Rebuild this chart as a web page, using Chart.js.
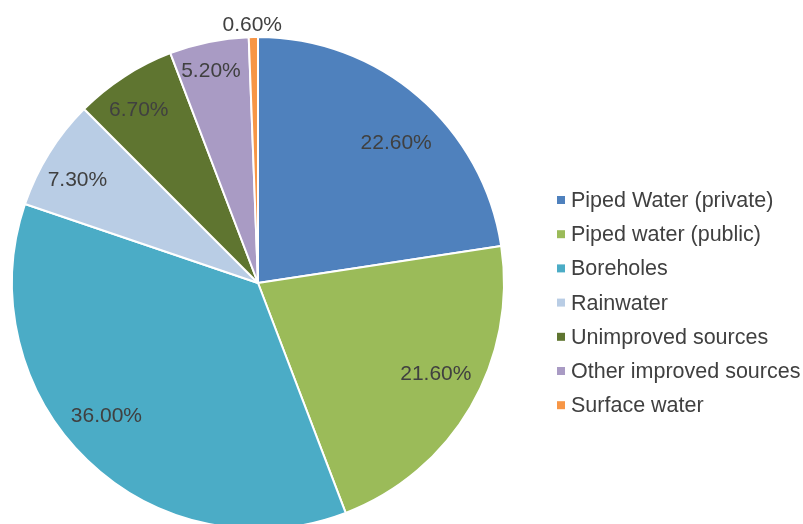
<!DOCTYPE html>
<html>
<head>
<meta charset="utf-8">
<script src="https://cdn.jsdelivr.net/npm/chart.js@4/dist/chart.umd.min.js"></script>
<style>
  html, body { margin: 0; padding: 0; background: #fff; overflow: hidden; }
  #wrap { position: relative; width: 803px; height: 570px; }
</style>
</head>
<body>
<div id="wrap"><canvas id="chart" width="803" height="570"></canvas></div>
<script>
const sources = ["Piped Water (private)", "Piped water (public)", "Boreholes", "Rainwater", "Unimproved sources", "Other improved sources", "Surface water"];
const shares = [22.6, 21.6, 36.0, 7.3, 6.7, 5.2, 0.6];
const sliceColors = ["#4F81BD", "#9BBB59", "#4BACC6", "#B9CDE5", "#5F7530", "#A99BC4", "#F79646"];

// where each percent label sits (Excel "best fit" look): fraction of radius, and a small turn off the bisector in degrees
const labelRadius = [0.80, 0.813, 0.82, 0.844, 0.855, 0.882, 1.05];
const labelTurn = [3.9, -3.0, 4.8, -2.3, -1.6, -1.0, -0.2];
const textColor = "#404040";
const fontFamily = "'Liberation Sans', Arial, sans-serif";

const labelsAndLegend = {
  id: "labelsAndLegend",
  afterDraw(chart) {
    const ctx = chart.ctx;
    const meta = chart.getDatasetMeta(0);
    ctx.save();
    ctx.fillStyle = textColor;
    ctx.font = "21px " + fontFamily;
    ctx.textAlign = "center";
    ctx.textBaseline = "middle";
    meta.data.forEach((arc, i) => {
      const mid = (arc.startAngle + arc.endAngle) / 2 + labelTurn[i] * Math.PI / 180;
      const r = arc.outerRadius * labelRadius[i];
      ctx.fillText(shares[i].toFixed(2) + "%", arc.x + Math.cos(mid) * r, arc.y + Math.sin(mid) * r);
    });

    // legend
    ctx.textAlign = "left";
    ctx.font = "21.5px " + fontFamily;
    sources.forEach((name, i) => {
      const y = 200 + i * 34.2;
      ctx.fillStyle = sliceColors[i];
      ctx.fillRect(557, y - 4, 8, 8);
      ctx.fillStyle = textColor;
      ctx.fillText(name, 571, y + 1);
    });
    ctx.restore();
  }
};

new Chart("chart", {
  type: "pie",
  data: {
    labels: sources,
    datasets: [{
      data: shares,
      backgroundColor: sliceColors,
      borderColor: "#ffffff",
      borderWidth: 2
    }]
  },
  options: {
    responsive: false,
    animation: false,
    radius: 246,
    layout: { padding: { left: 12, right: 299, top: 37, bottom: 41 } },
    plugins: {
      legend: { display: false },
      tooltip: { enabled: false }
    }
  },
  plugins: [labelsAndLegend]
});
</script>
</body>
</html>
